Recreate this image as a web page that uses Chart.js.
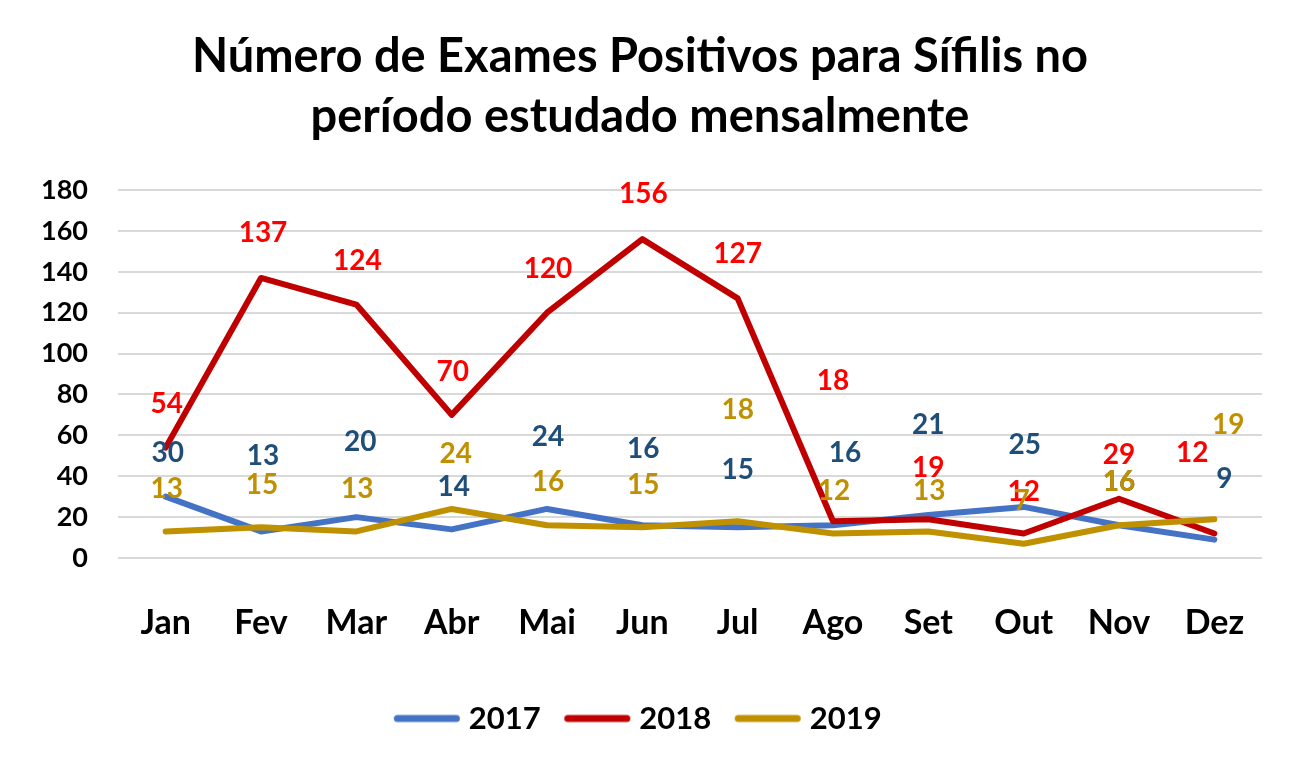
<!DOCTYPE html>
<html>
<head>
<meta charset="utf-8">
<script src="https://cdn.jsdelivr.net/npm/chart.js@4"></script>
<style>
  html, body { margin: 0; padding: 0; background: #ffffff; }
  #wrap { width: 1299px; height: 773px; }
</style>
</head>
<body>
<div id="wrap"><canvas id="c" width="1299" height="773"></canvas></div>
<script>
const months = ["Jan", "Fev", "Mar", "Abr", "Mai", "Jun", "Jul", "Ago", "Set", "Out", "Nov", "Dez"];
const seriesNames = ["2017", "2018", "2019"];
const values2017 = [30, 13, 20, 14, 24, 16, 15, 16, 21, 25, 16, 9];
const values2018 = [54, 137, 124, 70, 120, 156, 127, 18, 19, 12, 29, 12];
const values2019 = [13, 15, 13, 24, 16, 15, 18, 12, 13, 7, 16, 19];
const yTicks = [0, 20, 40, 60, 80, 100, 120, 140, 160, 180];
const titleLines = ["Número de Exames Positivos para Sífilis no", "período estudado mensalmente"];

// label placement relative to each point (pixels: dx right, dy above)
const labelShift2017 = [[2,44],[2,75],[4,75],[2,42],[1,72],[1,76],[0,57],[12,72],[0,90],[1,62],[0,43],[10,61]];
const labelShift2018 = [[1,44],[2,45],[1,44],[1,43],[1,44],[1,45],[0,44],[0,140],[0,51],[0,42],[0,44],[-22,81]];
const labelShift2019 = [[1,42],[1,42],[1,42],[4,55],[1,43],[1,42],[0,111],[1,43],[1,40],[-2,43],[0,43],[14,94]];

const lineColors = ["#4472C4", "#C00000", "#BF9000"];
const labelColors = ["#1F4E79", "#FF0000", "#BF9000"];
const shifts = [labelShift2017, labelShift2018, labelShift2019];
const FONT = "Lato, 'Open Sans', 'DejaVu Sans', sans-serif";

// legend swatch: a short rounded line, drawn off-centre so it sits close to the text
function legendSwatch(color) {
  const c = document.createElement('canvas');
  c.width = 78; c.height = 10;
  const g = c.getContext('2d');
  g.strokeStyle = color;
  g.lineWidth = 7;
  g.lineCap = 'round';
  g.beginPath();
  g.moveTo(10.5, 5);
  g.lineTo(69.5, 5);
  g.stroke();
  return c;
}

const labelPlugin = {
  id: 'pointLabels',
  afterDatasetsDraw(chart) {
    const ctx = chart.ctx;
    ctx.save();
    ctx.font = "bold 28px " + FONT;
    ctx.textAlign = 'center';
    ctx.textBaseline = 'middle';
    chart.data.datasets.forEach((ds, di) => {
      const meta = chart.getDatasetMeta(di);
      meta.data.forEach((pt, i) => {
        const s = shifts[di][i];
        ctx.fillStyle = labelColors[di];
        ctx.fillText(String(ds.data[i]), pt.x + s[0], pt.y - s[1]);
      });
    });
    ctx.restore();
  }
};

const allValues = [values2017, values2018, values2019];
new Chart(document.getElementById('c'), {
  type: 'line',
  data: {
    labels: months,
    datasets: seriesNames.map((name, i) => ({
      label: name,
      data: allValues[i],
      borderColor: lineColors[i],
      backgroundColor: lineColors[i],
      borderWidth: 6,
      borderCapStyle: 'round',
      borderJoinStyle: 'round',
      pointRadius: 0,
      pointHoverRadius: 0,
      pointStyle: legendSwatch(lineColors[i]),
      tension: 0,
      fill: false,
      order: 3 - i
    }))
  },
  options: {
    responsive: false,
    animation: false,
    devicePixelRatio: 1,
    layout: { padding: { left: 18, right: 37, top: 0, bottom: 29 } },
    plugins: {
      title: {
        display: true,
        text: titleLines,
        color: '#000000',
        font: { family: FONT, size: 47, weight: 'bold', lineHeight: 1.277 },
        padding: { top: 27, bottom: 43 }
      },
      legend: {
        display: true,
        position: 'bottom',
        labels: {
          usePointStyle: true,
          pointStyleWidth: 55,
          color: '#000000',
          padding: 28,
          sort: (a, b) => a.datasetIndex - b.datasetIndex,
          font: { family: FONT, size: 31, weight: 'bold' }
        }
      },
      tooltip: { enabled: false }
    },
    scales: {
      x: {
        offset: true,
        grid: { display: false },
        border: { display: false },
        ticks: { color: '#000000', padding: 37, font: { family: FONT, size: 34, weight: 'bold' } },
        afterFit(s) { s.height = 117; }
      },
      y: {
        min: 0,
        max: 180,
        afterBuildTicks(s) { s.ticks = yTicks.map(v => ({ value: v })); },
        grid: { color: '#D9D9D9', lineWidth: 2, drawTicks: false },
        border: { display: false },
        ticks: { color: '#000000', padding: 30, font: { family: FONT, size: 27, weight: 'bold' } },
        afterFit(s) { s.width = 100; }
      }
    }
  },
  plugins: [labelPlugin]
});
</script>
</body>
</html>
